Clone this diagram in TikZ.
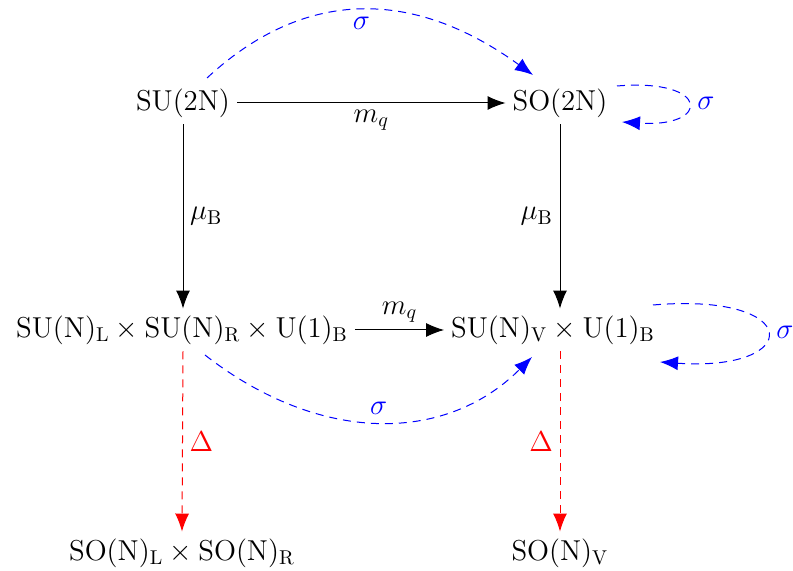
\documentclass[tikz,border=0pt]{standalone}
\usetikzlibrary{arrows.meta,calc}
\begin{document}
\begin{tikzpicture}[x=0.5pt,y=-0.5pt,
  font=\fontsize{14.4}{17}\selectfont,
  tip/.style={-{Latex[length=9pt,width=7pt]}},
  arr/.style={tip, line width=0.5pt, black},
  sig/.style={tip, line width=0.5pt, blue, dash pattern=on 4pt off 3pt},
  dlt/.style={tip, line width=0.5pt, red, dash pattern=on 4pt off 3pt}]
\useasboundingbox (0,0) rectangle (793,571);
\node (su2n) at (183,103) {$\mathrm{SU(2N)}$};
\node (so2n) at (560,103) {$\mathrm{SO(2N)}$};
\node (ml) at (182,330) {$\mathrm{SU(N)_L\times SU(N)_R\times U(1)_B}$};
\node (mr) at (553,330) {$\mathrm{SU(N)_V\times U(1)_B}$};
\node (bl) at (182,553) {$\mathrm{SO(N)_L\times SO(N)_R}$};
\node (bv) at (560,553) {$\mathrm{SO(N)_V}$};
% black arrows
\draw[arr] (su2n) -- node[below] {$m_q$} (so2n);
\draw[arr] (su2n.south) -- node[right] {$\mu_{\mathrm{B}}$} (su2n.south |- ml.north);
\draw[arr] (so2n.south) -- node[left] {$\mu_{\mathrm{B}}$} (so2n.south |- mr.north);
\draw[arr] (ml) -- node[above] {$m_q$} (mr);
% red dashed arrows
\draw[dlt] (su2n.south |- ml.south) -- node[right, red] {$\Delta$} (bl.north);
\draw[dlt] (so2n.south |- mr.south) -- node[left, red] {$\Delta$} (bv.north);
% sigma arcs
\draw[sig] ([shift={(24,-25)}]su2n.center) .. controls +(97,-90) and +(-120,-87) .. ([shift={(-27,-28)}]so2n.center) node[pos=0.5, below, blue] {$\sigma$};
\draw[sig] ([shift={(57,-17)}]so2n.center) .. controls +(94,-8) and +(89,6) .. ([shift={(62,19)}]so2n.center) node[pos=0.5, right=1pt, blue] {$\sigma$};
\draw[sig] ([shift={(100,-25)}]mr.center) .. controls +(151,-13) and +(144,10) .. ([shift={(107,32)}]mr.center) node[pos=0.5, right=1pt, blue] {$\sigma$};
\draw[sig] ([shift={(23,25)}]ml.center) .. controls +(114,89) and +(-87,87) .. ([shift={(-21,27)}]mr.center) node[pos=0.5, above, blue] {$\sigma$};
\end{tikzpicture}
\end{document}
